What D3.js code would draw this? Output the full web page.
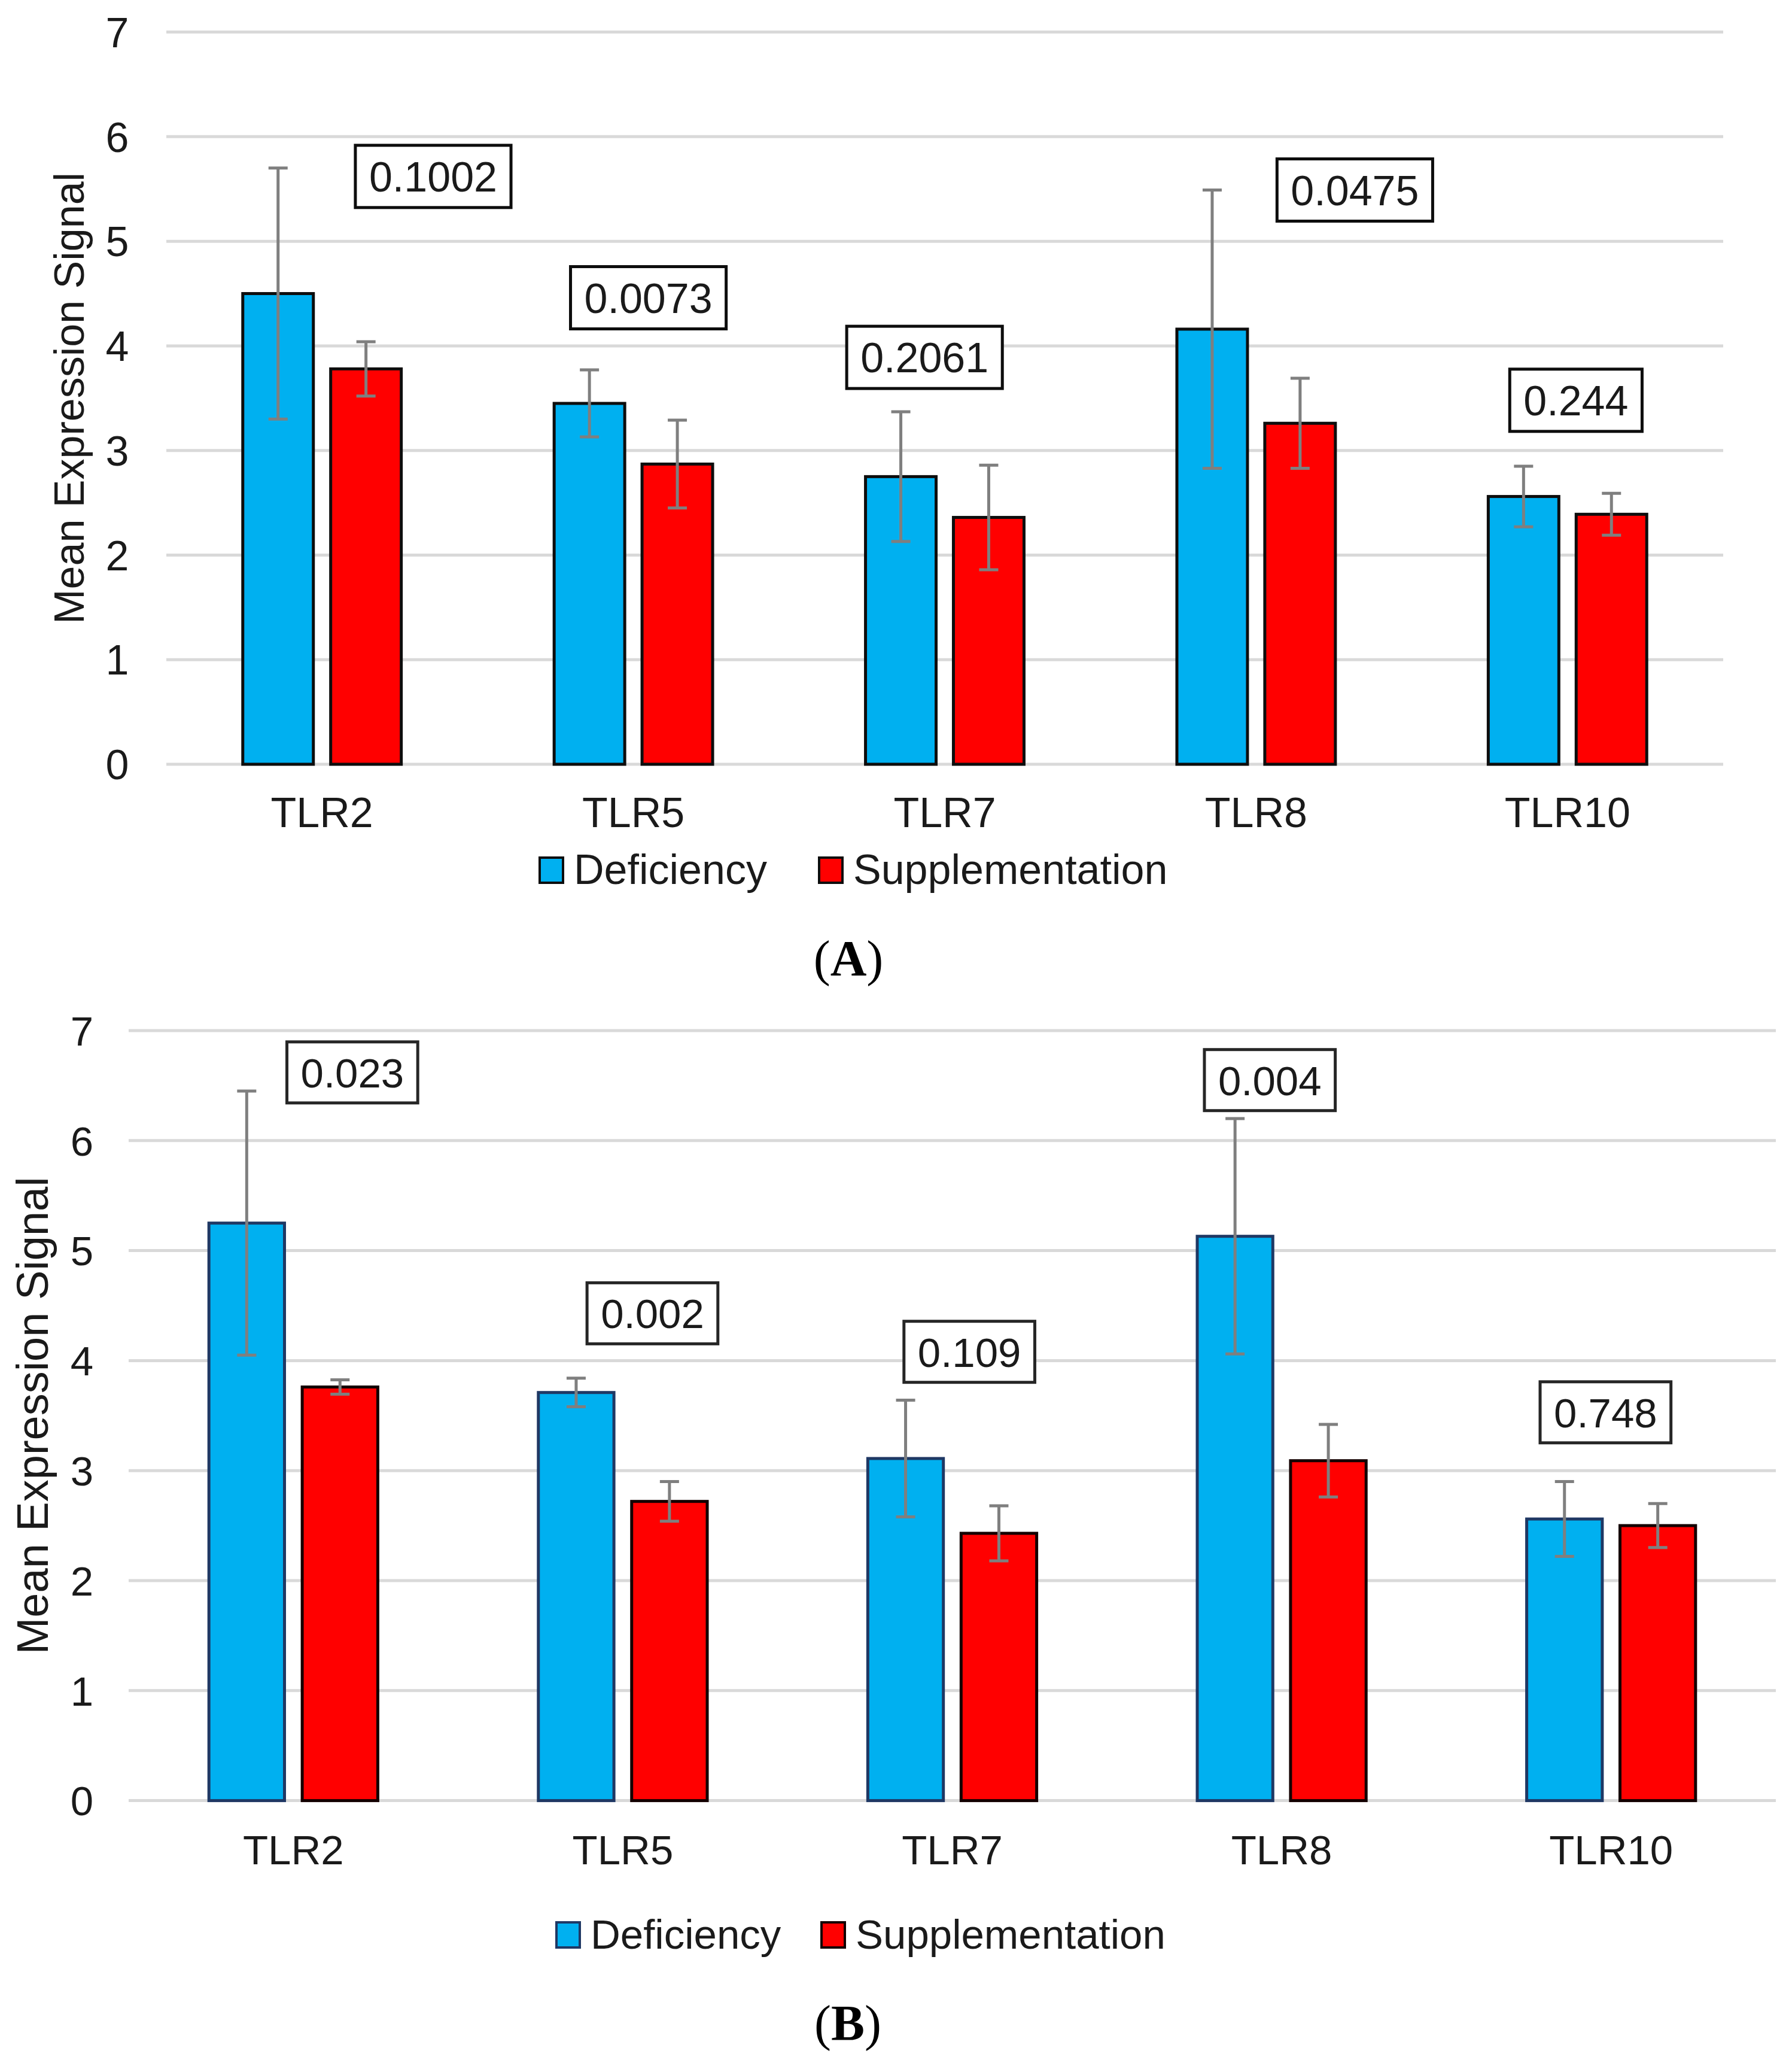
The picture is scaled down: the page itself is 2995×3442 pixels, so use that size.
<!DOCTYPE html>
<html>
<head>
<meta charset="utf-8">
<script src="https://cdn.jsdelivr.net/npm/d3@7"></script>
<style>
    body { margin: 0; background: #fff; }
    text { font-family: 'Liberation Sans', Arial, sans-serif; }
</style>
</head>
<body>
<div id="chart"></div>
<script>
/*global d3: false*/

// Data
var categories = ['TLR2', 'TLR5', 'TLR7', 'TLR8', 'TLR10'];
var seriesNames = ['Deficiency', 'Supplementation'];
var yTicks = [0, 1, 2, 3, 4, 5, 6, 7];

// Panel A
var defMeanA = [4.50, 3.45, 2.75, 4.16, 2.56];
var defErrA = [1.20, 0.32, 0.62, 1.33, 0.29];
var supMeanA = [3.78, 2.87, 2.36, 3.26, 2.39];
var supErrA = [0.26, 0.42, 0.50, 0.43, 0.20];
var pValuesA = ['0.1002', '0.0073', '0.2061', '0.0475', '0.244'];

// Panel B
var defMeanB = [5.25, 3.71, 3.11, 5.13, 2.56];
var defErrB = [1.20, 0.13, 0.53, 1.07, 0.34];
var supMeanB = [3.76, 2.72, 2.43, 3.09, 2.50];
var supErrB = [0.065, 0.18, 0.25, 0.33, 0.20];
var pValuesB = ['0.023', '0.002', '0.109', '0.004', '0.748'];

// where the p-value boxes sit: [offset from group centre in band units, y value]
var pAnchorA = [[0.357, 5.62], [0.048, 4.46], [-0.065, 3.89], [0.317, 5.49], [0.027, 3.48]];
var pAnchorB = [[0.179, 6.62], [0.090, 4.43], [0.052, 4.08], [-0.036, 6.55], [-0.017, 3.53]];

var colors = ['#00b0f0', '#ff0000'];

var svg = d3.select('#chart').append('svg')
    .attr('width', 2995)
    .attr('height', 3442);

svg.append('rect')
    .attr('width', 2995)
    .attr('height', 3442)
    .attr('fill', '#fff');

function drawPanel(cfg) {
    'use strict';
    var g, x0, x1, y, rows, groups, boxes, legend;

    g = svg.append('g');

    x0 = d3.scaleBand()
        .domain(categories)
        .range([cfg.left, cfg.right])
        .padding(0);
    // two bars of a group, centred in the band
    x1 = d3.scaleBand()
        .domain(seriesNames)
        .range([x0.bandwidth() * cfg.groupStart, x0.bandwidth() * (1 - cfg.groupStart)])
        .paddingInner(cfg.barGap);
    y = d3.scaleLinear()
        .domain([0, 7])
        .range([cfg.bottom, cfg.top]);

    // Grid lines
    g.append('g')
        .selectAll('line')
        .data(yTicks)
        .join('line')
        .attr('x1', cfg.left)
        .attr('x2', cfg.right)
        .attr('y1', function(d) { return y(d); })
        .attr('y2', function(d) { return y(d); })
        .attr('stroke', '#d9d9d9')
        .attr('stroke-width', 5);

    // Y tick labels
    g.append('g')
        .selectAll('text')
        .data(yTicks)
        .join('text')
        .attr('x', cfg.tickX)
        .attr('y', function(d) { return y(d); })
        .attr('dy', '0.36em')
        .attr('text-anchor', 'middle')
        .attr('font-size', cfg.fs)
        .attr('fill', '#1a1a1a')
        .text(function(d) { return d; });

    // Y title
    g.append('text')
        .attr('transform', 'translate(' + cfg.titleX + ',' + (cfg.top + cfg.bottom) / 2 + ') rotate(-90)')
        .attr('dy', '0.36em')
        .attr('text-anchor', 'middle')
        .attr('font-size', cfg.titleFs)
        .attr('fill', '#1a1a1a')
        .text('Mean Expression Signal');

    rows = categories.map(function(c, i) {
        return {
            cat: c,
            bars: [
                {s: seriesNames[0], v: cfg.def[i], e: cfg.defErr[i], k: 0},
                {s: seriesNames[1], v: cfg.sup[i], e: cfg.supErr[i], k: 1}
            ]
        };
    });

    groups = g.append('g')
        .selectAll('g')
        .data(rows)
        .join('g')
        .attr('transform', function(d) { return 'translate(' + x0(d.cat) + ',0)'; });

    // Bars
    groups.selectAll('rect')
        .data(function(d) { return d.bars; })
        .join('rect')
        .attr('x', function(d) { return x1(d.s); })
        .attr('y', function(d) { return y(d.v); })
        .attr('width', x1.bandwidth())
        .attr('height', function(d) { return y(0) - y(d.v); })
        .attr('fill', function(d) { return colors[d.k]; })
        .attr('stroke', function(d) { return cfg.strokes[d.k]; })
        .attr('stroke-width', 5);

    // Error bars
    groups.selectAll('path.err')
        .data(function(d) { return d.bars; })
        .join('path')
        .attr('class', 'err')
        .attr('d', function(d) {
            var cx, top, bot, w;
            cx = x1(d.s) + x1.bandwidth() / 2;
            top = y(d.v + d.e);
            bot = y(d.v - d.e);
            w = 16;
            return 'M' + cx + ',' + top + 'V' + bot +
                'M' + (cx - w) + ',' + top + 'H' + (cx + w) +
                'M' + (cx - w) + ',' + bot + 'H' + (cx + w);
        })
        .attr('fill', 'none')
        .attr('stroke', '#7f7f7f')
        .attr('stroke-width', 5);

    // Category labels
    g.append('g')
        .selectAll('text')
        .data(categories)
        .join('text')
        .attr('x', function(d) { return x0(d) + x0.bandwidth() / 2; })
        .attr('y', cfg.catY)
        .attr('text-anchor', 'middle')
        .attr('font-size', cfg.fs)
        .attr('fill', '#1a1a1a')
        .text(function(d) { return d; });

    // p-value boxes
    boxes = g.append('g')
        .selectAll('g')
        .data(cfg.pValues.map(function(p, i) {
            return {p: p, cat: categories[i], a: cfg.anchors[i]};
        }))
        .join('g')
        .attr('transform', function(d) {
            return 'translate(' + (x0(d.cat) + x0.bandwidth() * (0.5 + d.a[0])) + ',' + y(d.a[1]) + ')';
        });
    boxes.append('text')
        .attr('text-anchor', 'middle')
        .attr('dy', '0.36em')
        .attr('font-size', cfg.fs)
        .attr('fill', '#1a1a1a')
        .text(function(d) { return d.p; });
    boxes.insert('rect', 'text')
        .each(function() {
            var t, w;
            t = d3.select(this.parentNode).select('text').node();
            w = t.getComputedTextLength() + 46;
            d3.select(this)
                .attr('x', -w / 2)
                .attr('y', -cfg.boxH / 2)
                .attr('width', w)
                .attr('height', cfg.boxH);
        })
        .attr('fill', '#fff')
        .attr('stroke', cfg.boxStroke)
        .attr('stroke-width', 5);

    // Legend
    legend = g.append('g')
        .selectAll('g')
        .data(seriesNames)
        .join('g')
        .attr('transform', function(d, i) { return 'translate(' + cfg.legendX[i] + ',' + cfg.legendY + ')'; });
    legend.append('rect')
        .attr('x', 0)
        .attr('y', -44)
        .attr('width', 39)
        .attr('height', 42)
        .attr('fill', function(d, i) { return colors[i]; })
        .attr('stroke', function(d, i) { return cfg.strokes[i]; })
        .attr('stroke-width', 4);
    legend.append('text')
        .attr('x', 57)
        .attr('y', 0)
        .attr('font-size', cfg.fs)
        .attr('fill', '#1a1a1a')
        .text(function(d) { return d; });

    // Panel caption
    g.append('text')
        .attr('x', cfg.capX)
        .attr('y', cfg.capY)
        .attr('text-anchor', 'middle')
        .attr('font-size', 84)
        .attr('fill', '#000')
        .style('font-family', "'Liberation Serif', 'Times New Roman', serif")
        .call(function(t) {
            t.append('tspan').text('(');
            t.append('tspan').attr('font-weight', 'bold').text(cfg.letter);
            t.append('tspan').text(')');
        });
}

drawPanel({
    left: 278, right: 2880, top: 53.6, bottom: 1277,
    groupStart: 0.2455, barGap: 0.197,
    def: defMeanA, defErr: defErrA, sup: supMeanA, supErr: supErrA,
    pValues: pValuesA, anchors: pAnchorA,
    strokes: ['#0d0d0d', '#0d0d0d'], boxStroke: '#0d0d0d', boxH: 104,
    fs: 70, titleFs: 70, tickX: 196, titleX: 115, catY: 1382,
    legendX: [902, 1369], legendY: 1477,
    capX: 1418, capY: 1630, letter: 'A'
});

drawPanel({
    left: 215, right: 2968, top: 1722, bottom: 3008.6,
    groupStart: 0.2437, barGap: 0.19,
    def: defMeanB, defErr: defErrB, sup: supMeanB, supErr: supErrB,
    pValues: pValuesB, anchors: pAnchorB,
    strokes: ['#1f3864', '#140000'], boxStroke: '#262626', boxH: 102,
    fs: 69, titleFs: 74, tickX: 137, titleX: 53, catY: 3115,
    legendX: [930, 1373], legendY: 3256,
    capX: 1417, capY: 3409, letter: 'B'
});
</script>
</body>
</html>
